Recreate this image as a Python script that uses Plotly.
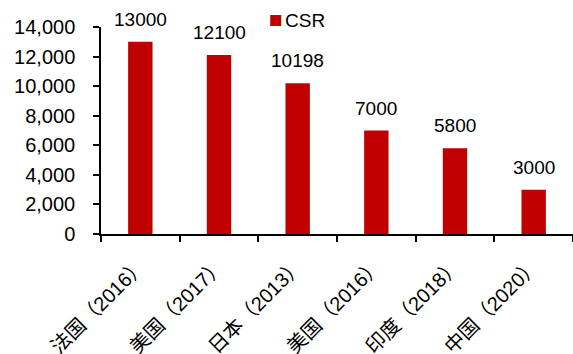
import plotly.graph_objects as go

categories = ["法国（2016）", "美国（2017）", "日本（2013）", "美国（2016）", "印度（2018）", "中国（2020）"]
csr_values = [13000, 12100, 10198, 7000, 5800, 3000]
y_ticks = [0, 2000, 4000, 6000, 8000, 10000, 12000, 14000]
series_name = "CSR"

BAR_COLOR = "#C00000"
FONT = "Liberation Sans, Arial, sans-serif"
CJK_FONT = "Liberation Sans, Noto Sans CJK SC, sans-serif"

fig = go.Figure()
fig.add_trace(go.Bar(
    x=categories,
    y=csr_values,
    name=series_name,
    marker=dict(color=BAR_COLOR, line=dict(width=0)),
    width=0.31,
    showlegend=False,
))

# value labels above each bar
for cat, val in zip(categories, csr_values):
    fig.add_annotation(
        x=cat, y=val, text=str(val), showarrow=False,
        yanchor="bottom", yshift=10,
        font=dict(family=FONT, size=19, color="#000000"),
    )

# compact legend: colour key plus series name
fig.add_shape(
    type="rect", xref="paper", yref="paper",
    x0=0.3585, x1=0.3818, y0=1.0048, y1=1.058,
    fillcolor=BAR_COLOR, line=dict(width=0),
)
fig.add_annotation(
    xref="paper", yref="paper", x=0.3855, y=1.031,
    xanchor="left", yanchor="middle", showarrow=False,
    text=series_name, font=dict(family=FONT, size=19, color="#000000"),
)

fig.update_layout(
    width=573, height=354,
    margin=dict(l=101, r=0, t=27, b=120),
    paper_bgcolor="white", plot_bgcolor="white",
    font=dict(family=FONT, size=19, color="#000000"),
    bargap=0.69,
    showlegend=False,
    xaxis=dict(
        showline=True, linecolor="#000000", linewidth=1.5,
        ticks="outside", tickson="boundaries", ticklen=6,
        tickcolor="#000000", tickwidth=1.5,
        tickangle=-45, ticklabelstandoff=10,
        tickfont=dict(family=CJK_FONT, size=20),
        showgrid=False, automargin=False,
    ),
    yaxis=dict(
        range=[0, 14000], tickvals=y_ticks, tickformat=",d",
        showline=True, linecolor="#000000", linewidth=1.5,
        ticks="outside", ticklen=6, tickcolor="#000000", tickwidth=1.5,
        ticklabelstandoff=14,
        showgrid=False, zeroline=False, automargin=False,
        tickfont=dict(family=FONT, size=20),
    ),
)

fig.write_html("out.html")
